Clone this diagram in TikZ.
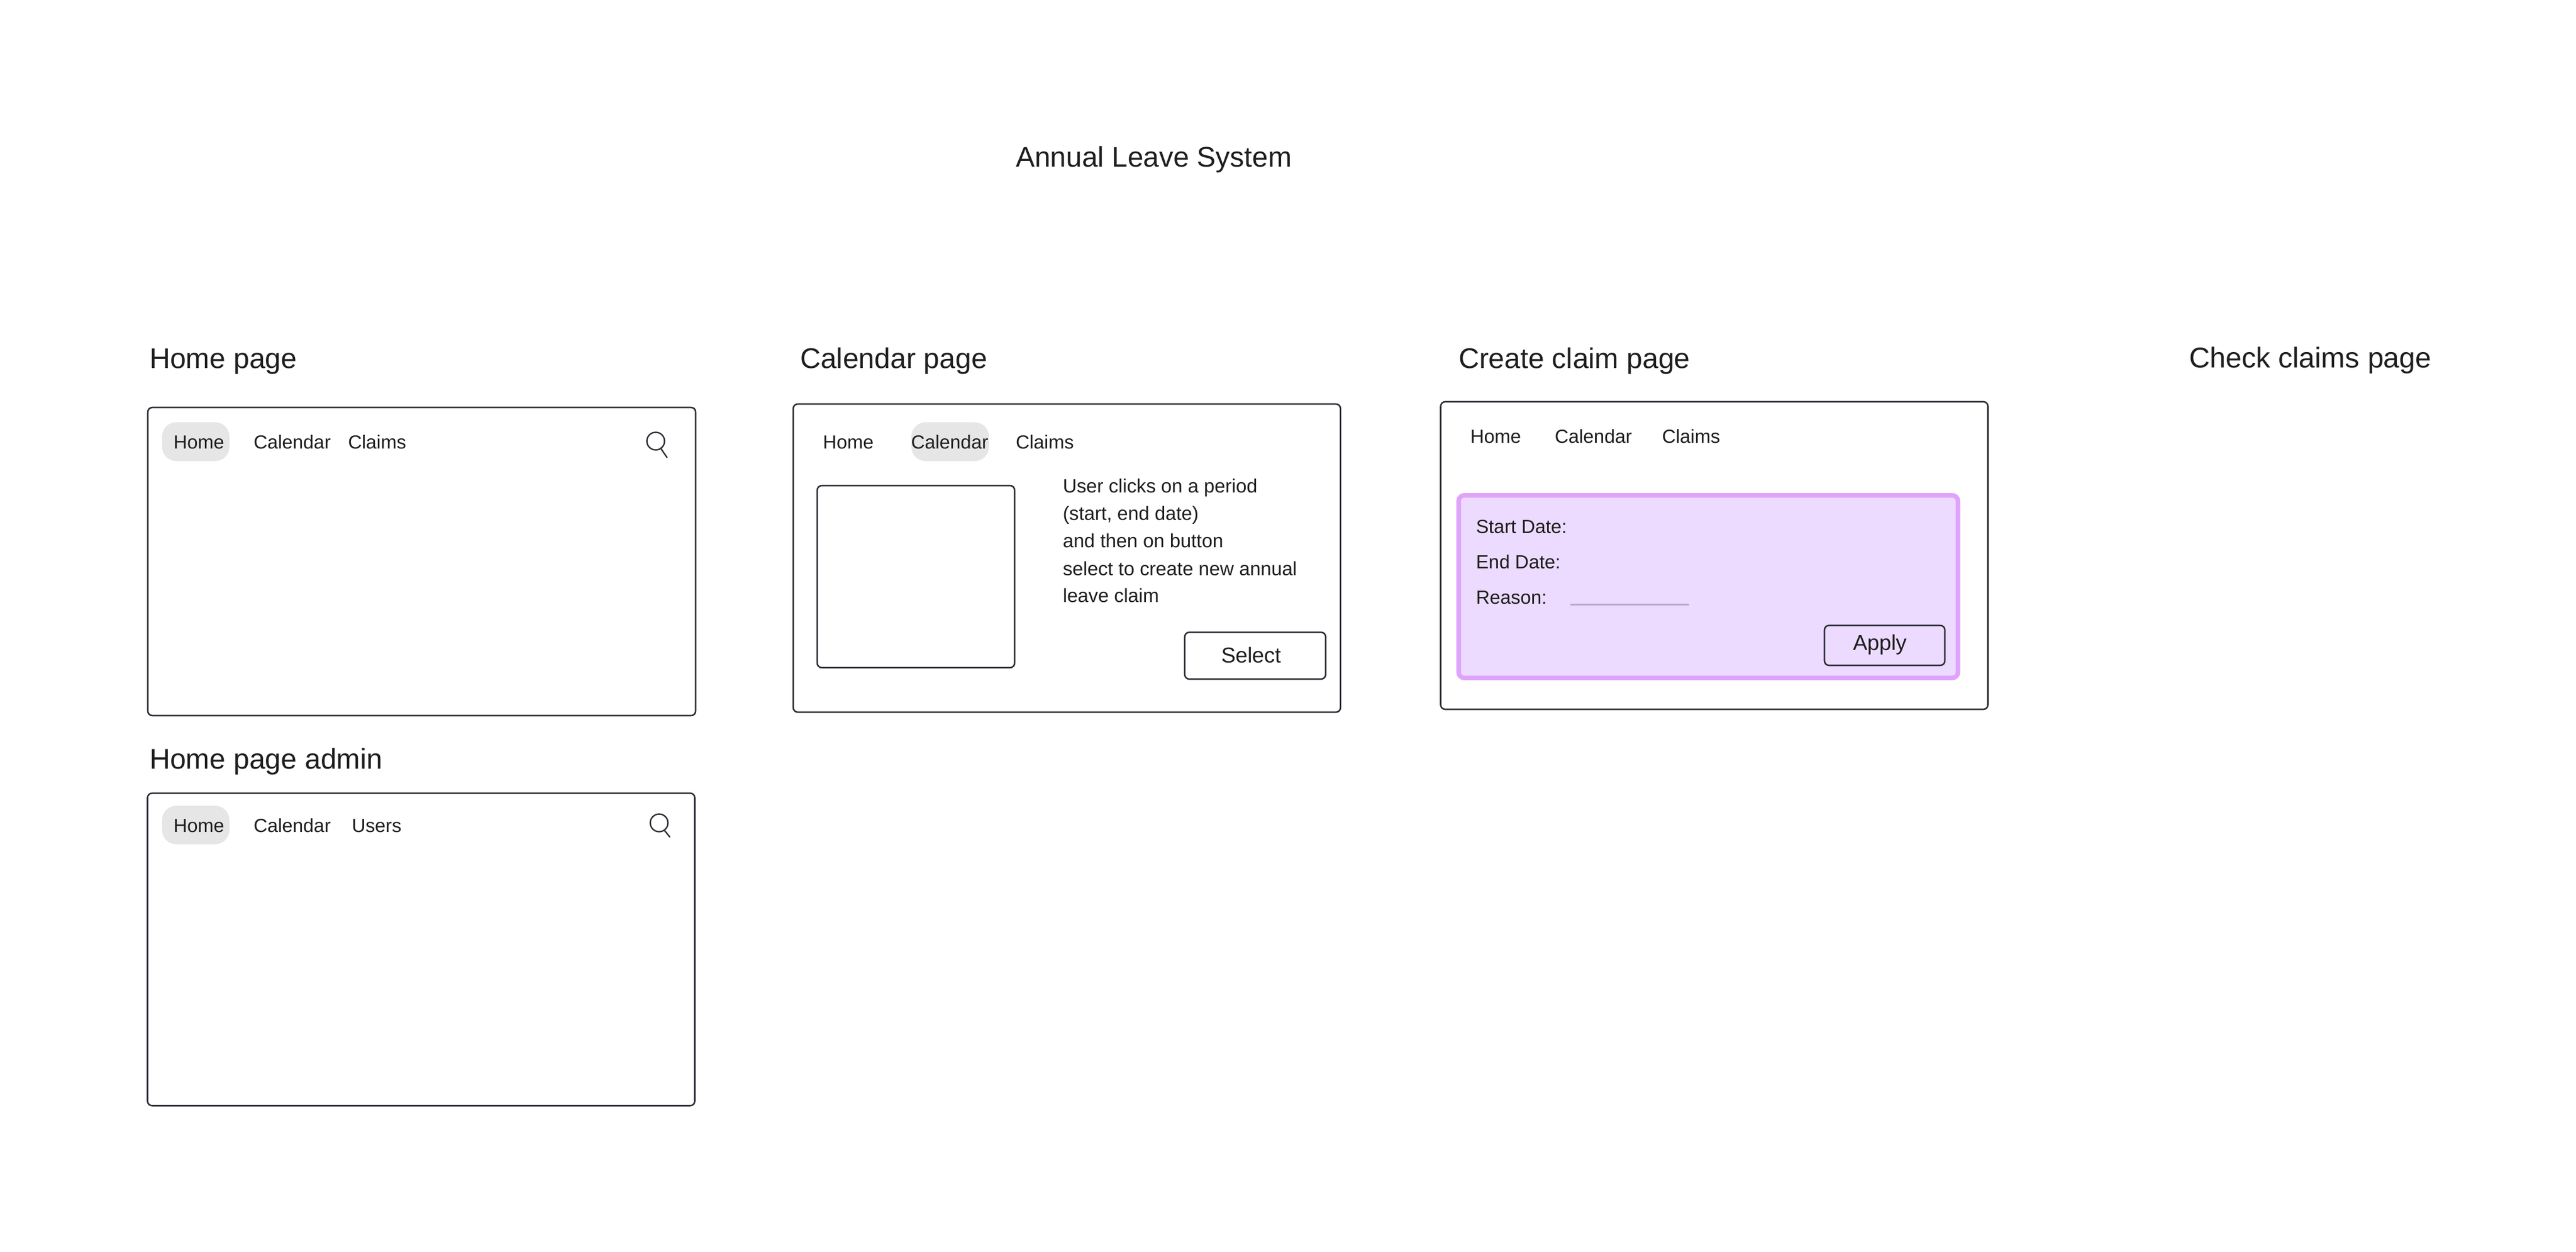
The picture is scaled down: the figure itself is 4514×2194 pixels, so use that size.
\documentclass[tikz,border=0pt]{standalone}
\usepackage{fontspec}
\setmainfont{Liberation Sans}
\definecolor{ink}{HTML}{1E1E1E}
\definecolor{stroke}{HTML}{2C2C35}
\definecolor{pillgrey}{HTML}{E6E6E6}
\definecolor{lilac}{HTML}{ECDBFE}
\definecolor{orchid}{HTML}{E0A3FB}
\definecolor{rule}{HTML}{B8A6CC}
\tikzset{
  x=1pt,y=-1pt,
  base/.style={anchor=base west,inner sep=0pt,outer sep=0pt,text=ink},
  heading/.style={base,font=\fontsize{50}{50}\selectfont},
  navtext/.style={base,font=\fontsize{33.3}{33.3}\selectfont},
  paratext/.style={base,font=\fontsize{33.7}{33.7}\selectfont},
  btntext/.style={base,font=\fontsize{37.8}{37.8}\selectfont},
  framebox/.style={draw=stroke,line width=2.6pt,rounded corners=8pt,anchor=north west,inner sep=0pt,outer sep=0pt,fill=white},
  pill/.style={fill=pillgrey,rounded corners=25pt,anchor=north west,inner sep=0pt,outer sep=0pt},
  panel/.style={draw=orchid,fill=lilac,line width=8pt,rounded corners=10pt,anchor=north west,inner sep=0pt,outer sep=0pt},
  lens/.style={circle,draw=stroke,line width=2.4pt,inner sep=0pt,outer sep=0pt,minimum size=31pt},
  lenshandle/.style={draw=stroke,line width=2.4pt}
}
\begin{document}
\begin{tikzpicture}
\fill[white] (0,0) rectangle (4514,2194);
\useasboundingbox (0,0) rectangle (4514,2194);

\node[heading,font=\fontsize{49.7}{49.7}\selectfont] (title) at (1780,292) {Annual Leave System};
\node[heading] (thome) at (262,645) {Home page};
\node[heading] (tcal) at (1402,645) {Calendar page};
\node[heading] (tcreate) at (2556,645) {Create claim page};
\node[heading,font=\fontsize{50.3}{50.3}\selectfont] (tcheck) at (3836,644) {Check claims page};
\node[heading] (tadmin) at (262,1347) {Home page admin};

% Home page
\node[framebox,minimum width=960pt,minimum height=540pt] (home) at (259,714) {};
\node[pill,minimum width=118pt,minimum height=68pt] (homepill) at (284,740) {};
\node[navtext] (h1) at (304,786) {Home};
\node[navtext] (h2) at (444.5,786) {Calendar};
\node[navtext] (h3) at (610,786) {Claims};
\node[lens] (s1) at (1149,773) {};
\coordinate (s1end) at (1169,802);
\draw[lenshandle] (s1.-55) -- (s1end);

% Home page admin
\node[framebox,minimum width=959pt,minimum height=547.5pt] (admin) at (258.5,1390) {};
\node[pill,minimum width=118pt,minimum height=67.5pt] (adminpill) at (284,1412) {};
\node[navtext] (a1) at (304,1458.5) {Home};
\node[navtext] (a2) at (444.5,1458.5) {Calendar};
\node[navtext] (a3) at (616.5,1458.5) {Users};
\node[lens] (s2) at (1155,1442) {};
\coordinate (s2end) at (1174,1467);
\draw[lenshandle] (s2.-55) -- (s2end);

% Calendar page
\node[framebox,minimum width=959pt,minimum height=540pt] (cal) at (1390,708) {};
\node[pill,minimum width=136pt,minimum height=68pt] (calpill) at (1597,740) {};
\node[navtext] (c1) at (1442,786) {Home};
\node[navtext] (c2) at (1596.5,786) {Calendar};
\node[navtext] (c3) at (1780,786) {Claims};
\node[framebox,minimum width=346pt,minimum height=319pt] (picker) at (1432,851) {};
\node[paratext] (p1) at (1862.5,863.5) {User clicks on a period};
\node[paratext] (p2) at (1862.5,911.5) {(start, end date)};
\node[paratext] (p3) at (1862.5,959.5) {and then on button};
\node[paratext] (p4) at (1862.5,1008) {select to create new annual};
\node[paratext] (p5) at (1862.5,1055.5) {leave claim};
\node[framebox,minimum width=247pt,minimum height=82pt] (selectbtn) at (2076,1108) {};
\node[btntext] (selecttxt) at (2140,1161) {Select};

% Create claim page
\node[framebox,minimum width=959pt,minimum height=539pt] (create) at (2524.5,704) {};
\node[navtext] (k1) at (2576.5,776.5) {Home};
\node[navtext] (k2) at (2724.5,776.5) {Calendar};
\node[navtext] (k3) at (2912.5,776.5) {Claims};
\node[panel,minimum width=875pt,minimum height=320pt] (form) at (2556,868) {};
\node[navtext] (f1) at (2586.5,934) {Start Date:};
\node[navtext] (f2) at (2586.5,996.5) {End Date:};
\node[navtext] (f3) at (2586.5,1058) {Reason:};
\coordinate (r1) at (2752,1059);
\coordinate (r2) at (2960,1059);
\draw[rule,line width=3pt] (r1) -- (r2);
\node[framebox,fill=lilac,minimum width=211pt,minimum height=70pt] (applybtn) at (3197,1096) {};
\node[btntext] (applytxt) at (3247,1139) {Apply};
\end{tikzpicture}
\end{document}
